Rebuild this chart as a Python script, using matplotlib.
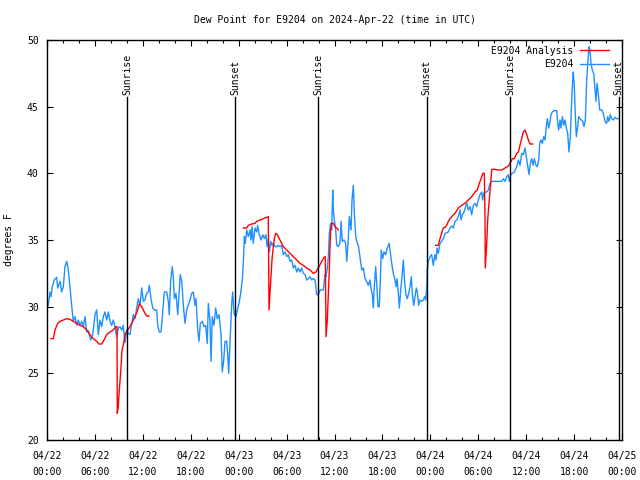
import numpy as np
import matplotlib
matplotlib.use("Agg")
import matplotlib.pyplot as plt
from matplotlib.ticker import MultipleLocator

# =================================================
# DATA (hours since 2024-04-22 00:00 UTC, degrees F)
# =================================================

obs_hours = [
    0.16, 0.38, 0.50, 0.66, 0.91, 1.21, 1.34, 1.63, 1.84, 2.04, 2.25, 2.47, 2.67, 2.88, 3.09,
    3.29, 3.51, 3.72, 3.92, 4.13, 4.35, 4.55, 4.76, 4.97, 5.17, 5.47, 5.72, 6.01, 6.22, 6.42,
    6.64, 6.85, 7.05, 7.26, 7.48, 7.68, 7.89, 8.10, 8.30, 8.51, 8.73, 8.93, 9.14, 9.35, 9.55,
    9.77, 9.98, 10.18, 10.39, 10.61, 10.81, 11.02, 11.23, 11.43, 11.65, 11.86, 12.06, 12.27,
    12.48, 12.68, 12.81, 13.02, 13.24, 13.44, 13.74, 13.86, 14.06, 14.27, 14.44, 14.69, 14.99,
    15.19, 15.31, 15.49, 15.69, 15.82, 15.94, 16.15, 16.37, 16.53, 16.69, 16.87, 17.07, 17.28,
    17.49, 17.69, 17.91, 18.12, 18.32, 18.53, 18.66, 18.87, 19.03, 19.20, 19.45, 19.66, 19.87,
    20.07, 20.20, 20.41, 20.54, 20.70, 20.91, 21.12, 21.32, 21.54, 21.79, 21.95, 22.13, 22.29,
    22.50, 22.63, 22.75, 22.92, 23.13, 23.25, 23.42, 23.67, 23.83, 24.04, 24.25, 24.46, 24.58,
    24.71, 24.83, 25.01, 25.21, 25.42, 25.54, 25.67, 25.83, 26.05, 26.26, 26.38, 26.58, 26.80,
    27.01, 27.21, 27.42, 27.55, 27.71, 27.84, 28.01, 28.17, 28.34, 28.55, 28.76, 28.96, 29.18,
    29.39, 29.59, 29.80, 30.02, 30.22, 30.43, 30.64, 30.84, 31.05, 31.27, 31.47, 31.68, 31.89,
    32.09, 32.31, 32.52, 32.72, 32.93, 33.15, 33.35, 33.56, 33.77, 33.97, 34.19, 34.60, 34.81,
    34.94, 35.10, 35.23, 35.35, 35.52, 35.65, 35.78, 35.85, 35.98, 36.15, 36.28, 36.48, 36.69,
    36.82, 36.98, 37.19, 37.40, 37.53, 37.73, 37.85, 38.07, 38.19, 38.36, 38.48, 38.66, 38.78,
    38.98, 39.19, 39.41, 39.61, 39.82, 40.03, 40.23, 40.45, 40.57, 40.73, 40.86, 40.98, 41.16,
    41.29, 41.45, 41.61, 41.74, 41.86, 42.04, 42.20, 42.41, 42.61, 42.83, 42.95, 43.16, 43.36,
    43.58, 43.70, 43.83, 43.99, 44.12, 44.29, 44.45, 44.62, 44.79, 44.95, 45.12, 45.29, 45.45,
    45.62, 45.74, 45.92, 46.08, 46.24, 46.37, 46.54, 46.71, 46.92, 47.12, 47.30, 47.42, 47.55,
    47.62, 47.75, 47.96, 48.17, 48.37, 48.58, 48.71, 48.84, 49.00, 49.21, 49.42, 49.62, 49.84,
    50.05, 50.25, 50.46, 50.68, 50.88, 51.09, 51.30, 51.50, 51.72, 51.84, 52.01, 52.22, 52.43,
    52.59, 52.75, 52.97, 53.18, 53.38, 53.59, 53.81, 54.01, 54.22, 54.43, 54.56, 54.68, 54.85,
    55.06, 55.26, 55.48, 55.69, 56.10, 56.51, 56.94, 57.14, 57.35, 57.56, 57.76, 57.89, 58.06,
    58.27, 58.52, 58.82, 59.02, 59.23, 59.44, 59.64, 59.86, 59.98, 60.14, 60.36, 60.52, 60.70,
    60.86, 61.02, 61.23, 61.40, 61.57, 61.70, 61.86, 62.02, 62.20, 62.36, 62.52, 62.65, 62.82,
    62.95, 63.11, 63.27, 63.45, 63.82, 63.95, 64.07, 64.24, 64.36, 64.53, 64.70, 64.86, 65.03,
    65.20, 65.36, 65.53, 65.70, 65.83, 65.90, 66.03, 66.15, 66.28, 66.45, 66.58, 66.74, 66.90,
    67.08, 67.24, 67.41, 67.58, 67.74, 67.87, 67.99, 68.12, 68.28, 68.46, 68.62, 68.75, 68.87,
    69.03, 69.21, 69.46, 69.66, 69.87, 70.08, 70.21, 70.37, 70.54, 70.71, 70.91, 71.12, 71.34,
    71.54,
]

obs_dewpt = [
    30.1, 31.1, 30.75, 31.5, 32.0, 32.2, 31.4, 31.9, 31.1, 31.5, 33.0, 33.4, 32.75, 31.4, 30.1,
    28.9, 29.25, 28.6, 29.0, 28.6, 28.9, 28.5, 29.25, 28.1, 28.2, 27.5, 27.9, 29.4, 29.75, 27.9,
    29.0, 28.5, 29.25, 29.6, 29.0, 29.6, 28.9, 28.6, 29.0, 28.5, 27.75, 28.4, 28.5, 28.25, 28.6,
    27.3, 28.25, 28.0, 27.9, 28.75, 29.4, 29.1, 29.9, 30.6, 30.1, 31.4, 30.4, 30.5,
    31.0, 31.1, 31.6, 30.6, 29.9, 29.75, 29.75, 28.6, 28.1, 28.1, 29.25, 31.1, 31.1,
    30.4, 29.4, 32.0, 33.0, 32.25, 30.6, 31.0, 29.4, 30.9, 32.4, 31.9, 30.1, 28.75,
    29.75, 30.1, 30.5, 31.0, 31.1, 30.1, 30.6, 28.25, 27.4, 28.75, 28.9, 28.5, 28.6,
    27.25, 30.25, 28.9, 25.9, 29.25, 28.6, 29.9, 29.1, 29.4, 27.9, 25.1, 26.0, 27.4,
    27.4, 26.4, 25.0, 27.3, 30.25, 31.1, 29.5, 29.25, 29.75, 30.25, 31.0, 32.0, 33.25,
    35.25, 34.75, 35.75, 35.25, 35.75, 35.0, 36.0, 34.75, 35.9, 35.6, 36.1, 35.4, 35.0,
    35.4, 35.1, 35.4, 34.5, 35.1, 34.1, 34.9, 34.6, 34.75, 34.5, 34.5, 34.6, 34.5,
    34.6, 33.9, 34.1, 33.75, 33.9, 33.4, 33.5, 32.9, 33.1, 32.6, 32.9, 32.6, 32.9,
    32.5, 32.4, 32.0, 32.1, 32.25, 32.0, 32.1, 32.0, 30.9, 30.9, 31.25, 31.25, 32.4,
    32.25, 32.9, 33.75, 35.5, 36.25, 35.75, 38.75, 37.25, 36.5, 35.75, 34.6, 34.5, 34.75,
    36.4, 34.9, 35.0, 34.75, 33.4, 35.1, 36.75, 35.75, 38.0, 39.1, 37.0, 35.25, 34.9,
    34.6, 33.75, 32.75, 32.9, 32.1, 31.9, 31.6, 32.0, 31.4, 30.9, 29.9, 31.5, 33.0,
    31.6, 30.0, 30.0, 32.0, 34.25, 33.6, 34.1, 33.9, 34.4, 34.75, 34.25, 33.25, 32.5,
    32.0, 31.5, 32.1, 31.0, 29.9, 31.25, 32.25, 33.5, 31.75, 30.9, 30.6, 31.0, 31.5,
    32.25, 31.0, 30.1, 30.75, 31.4, 31.1, 30.1, 30.5, 30.4, 30.5, 30.75, 30.5, 31.5,
    32.75, 33.4, 33.75, 33.9, 33.1, 33.9, 33.5, 34.4, 34.0, 34.75, 34.9, 35.1, 35.5,
    35.55, 35.6, 35.9, 36.05, 35.9, 36.4, 36.5, 36.75, 37.25, 36.5, 36.9, 37.1, 37.5,
    37.75, 37.25, 37.5, 36.9, 37.6, 37.75, 37.5, 38.0, 38.4, 38.6, 38.0, 38.5, 38.6,
    38.6, 38.75, 39.25, 39.4, 39.4, 39.4, 39.4, 39.6, 39.4, 39.75, 39.9, 39.4, 39.9,
    40.0, 40.1, 40.5, 41.0, 40.6, 41.5, 41.4, 41.9, 41.4, 40.75, 39.9, 40.75, 41.1,
    40.6, 41.1, 40.6, 40.5, 41.0, 42.25, 42.5, 42.25, 42.75, 42.5, 43.5, 44.1, 43.4,
    43.75, 44.4, 44.6, 44.7, 44.7, 43.75, 43.25, 44.0, 43.4, 44.25, 43.6, 44.0, 43.4,
    43.0, 41.6, 42.75, 45.5, 47.0, 47.6, 46.5, 44.4, 42.75, 43.5, 44.25, 44.1, 44.0,
    43.9, 43.5, 44.0, 47.0, 48.5, 49.5, 49.25, 48.25, 47.75, 47.5, 46.25, 45.4, 46.75,
    46.0, 44.75, 44.75, 44.5, 43.9, 43.75, 44.25, 43.9, 44.4, 44.1, 44.0, 44.2, 44.1,
    44.1,
]

# analysis series has gaps (NaN = no analysis available)
ana_hours = [
    0.50, 0.79, 1.00, 1.34, 1.63, 2.04, 2.47, 2.88, 3.29, 3.72, 4.13, 4.55, 4.97, 5.38, 5.80,
    6.22, 6.51, 6.85, 7.14, 7.48, 7.89, 8.30, 8.60, 8.77, 8.80, 8.93, 9.02, 9.14, 9.27, 9.39,
    9.55, 9.77, 10.18, 10.61, 11.02, 11.36, 11.56, 11.86, 12.06, 12.27, 12.48, 12.77,
    18.0,
    24.58, 25.01, 25.21, 25.63, 26.05, 26.26, 26.67, 27.09, 27.51, 27.71, 27.80, 27.92, 28.05,
    28.17, 28.34, 28.46, 28.64, 28.84, 29.18, 29.39, 29.59, 30.02, 30.43, 30.84, 31.27, 31.68,
    32.09, 32.52, 32.93, 33.35, 33.69, 33.97, 34.40, 34.69, 34.85, 34.94, 35.10, 35.24, 35.35,
    35.44, 35.52, 35.65, 35.85, 36.06, 36.28, 36.48,
    42.0,
    48.67, 49.00, 49.21, 49.42, 49.62, 49.84, 50.05, 50.25, 50.46, 50.68, 51.09, 51.30, 51.50,
    51.93, 52.34, 52.75, 53.18, 53.59, 53.88, 54.13, 54.35, 54.56, 54.76, 54.85, 54.88, 55.06,
    55.18, 55.35, 55.51, 55.69, 56.10, 56.51, 56.94, 57.35, 57.68, 57.98, 58.27, 58.52, 58.82,
    59.02, 59.23, 59.44, 59.64, 59.86, 60.07, 60.28, 60.49, 60.82,
]

ana_dewpt = [
    27.6, 27.6, 28.25, 28.75, 28.9, 29.0, 29.1, 29.05, 28.9, 28.75, 28.6, 28.5, 28.25, 27.9, 27.6,
    27.4, 27.2, 27.2, 27.5, 27.9, 28.1, 28.25, 28.5, 28.5, 22.0, 22.5, 23.5, 24.4, 25.5, 26.75,
    27.1, 27.9, 28.3, 28.75, 29.25, 29.75, 30.2, 30.0, 29.75, 29.5, 29.3, 29.3,
    np.nan,
    35.9, 35.9, 36.1, 36.2, 36.25, 36.4, 36.5, 36.6, 36.7, 36.75, 29.75, 31.0, 32.4,
    33.5, 34.5, 35.1, 35.5, 35.4, 35.0, 34.75, 34.5, 34.25, 34.0, 33.75, 33.5, 33.25,
    33.1, 32.9, 32.75, 32.5, 32.6, 32.9, 33.4, 33.7, 33.75, 27.75, 29.0, 31.0, 32.75,
    34.5, 35.75, 36.25, 36.25, 36.0, 35.9, 35.75,
    np.nan,
    34.6, 34.6, 35.1, 35.5, 35.9, 35.95, 36.1, 36.4, 36.6, 36.75, 37.0, 37.2, 37.4,
    37.6, 37.75, 38.0, 38.25, 38.6, 38.75, 39.25, 39.6, 40.0, 40.0, 36.5, 32.9, 34.75,
    36.5, 37.75, 39.0, 40.3, 40.3, 40.25, 40.25, 40.4, 40.5, 40.75, 41.1, 41.1, 41.5,
    41.6, 42.1, 42.6, 43.1, 43.25, 42.9, 42.5, 42.2, 42.2,
]

sun_hours = [10.06, 23.58, 33.97, 47.55, 58.01, 71.59]
sun_labels = ["Sunrise", "Sunset", "Sunrise", "Sunset", "Sunrise", "Sunset"]

tick_hours = list(range(0, 73, 6))
tick_labels = [
    "04/22\n00:00", "04/22\n06:00", "04/22\n12:00", "04/22\n18:00",
    "04/23\n00:00", "04/23\n06:00", "04/23\n12:00", "04/23\n18:00",
    "04/24\n00:00", "04/24\n06:00", "04/24\n12:00", "04/24\n18:00",
    "04/25\n00:00",
]

# =================================================
# PLOT
# =================================================

plt.rcParams["font.family"] = ["DejaVu Sans Mono"]
plt.rcParams["font.size"] = 7

fig = plt.figure(figsize=(6.4, 4.8), dpi=100)
ax = fig.add_axes([47 / 640, 40 / 480, 575 / 640, 400 / 480])

ax.plot(ana_hours, ana_dewpt, color="#ff0000", lw=1.0, label="E9204 Analysis", zorder=3)
ax.plot(obs_hours, obs_dewpt, color="#1e90ff", lw=1.0, label="E9204", zorder=2)

# sunrise / sunset markers
for h, lab in zip(sun_hours, sun_labels):
    ax.plot([h, h], [20, 45.7], color="black", lw=1.0, zorder=4)
    ax.text(h, 45.9, lab, rotation=90, ha="center", va="bottom", fontsize=7)

ax.set_xlim(0, 72)
ax.set_ylim(20, 50)

ax.set_xticks(tick_hours)
ax.set_xticklabels(tick_labels, linespacing=1.7)
ax.xaxis.set_minor_locator(MultipleLocator(2))
ax.set_yticks(range(20, 51, 5))

ax.tick_params(which="both", direction="in", top=True, right=True, color="black")
ax.tick_params(which="major", length=4, width=0.8)
ax.tick_params(axis="x", which="major", pad=8)
ax.tick_params(axis="y", which="major", pad=6)
ax.tick_params(which="minor", length=2, width=0.8)

for s in ax.spines.values():
    s.set_linewidth(1.0)

ax.set_title("Dew Point for E9204 on 2024-Apr-22 (time in UTC)", fontsize=7, pad=12)
ax.set_ylabel("degrees F", fontsize=7, labelpad=9)

ax.legend(loc="upper right", bbox_to_anchor=(0.995, 1.01), frameon=False,
          markerfirst=False, fontsize=7, handlelength=3.0, handletextpad=0.7,
          borderaxespad=0.8, labelspacing=0.35, borderpad=0.2)

fig.savefig("out.png", dpi=100)
